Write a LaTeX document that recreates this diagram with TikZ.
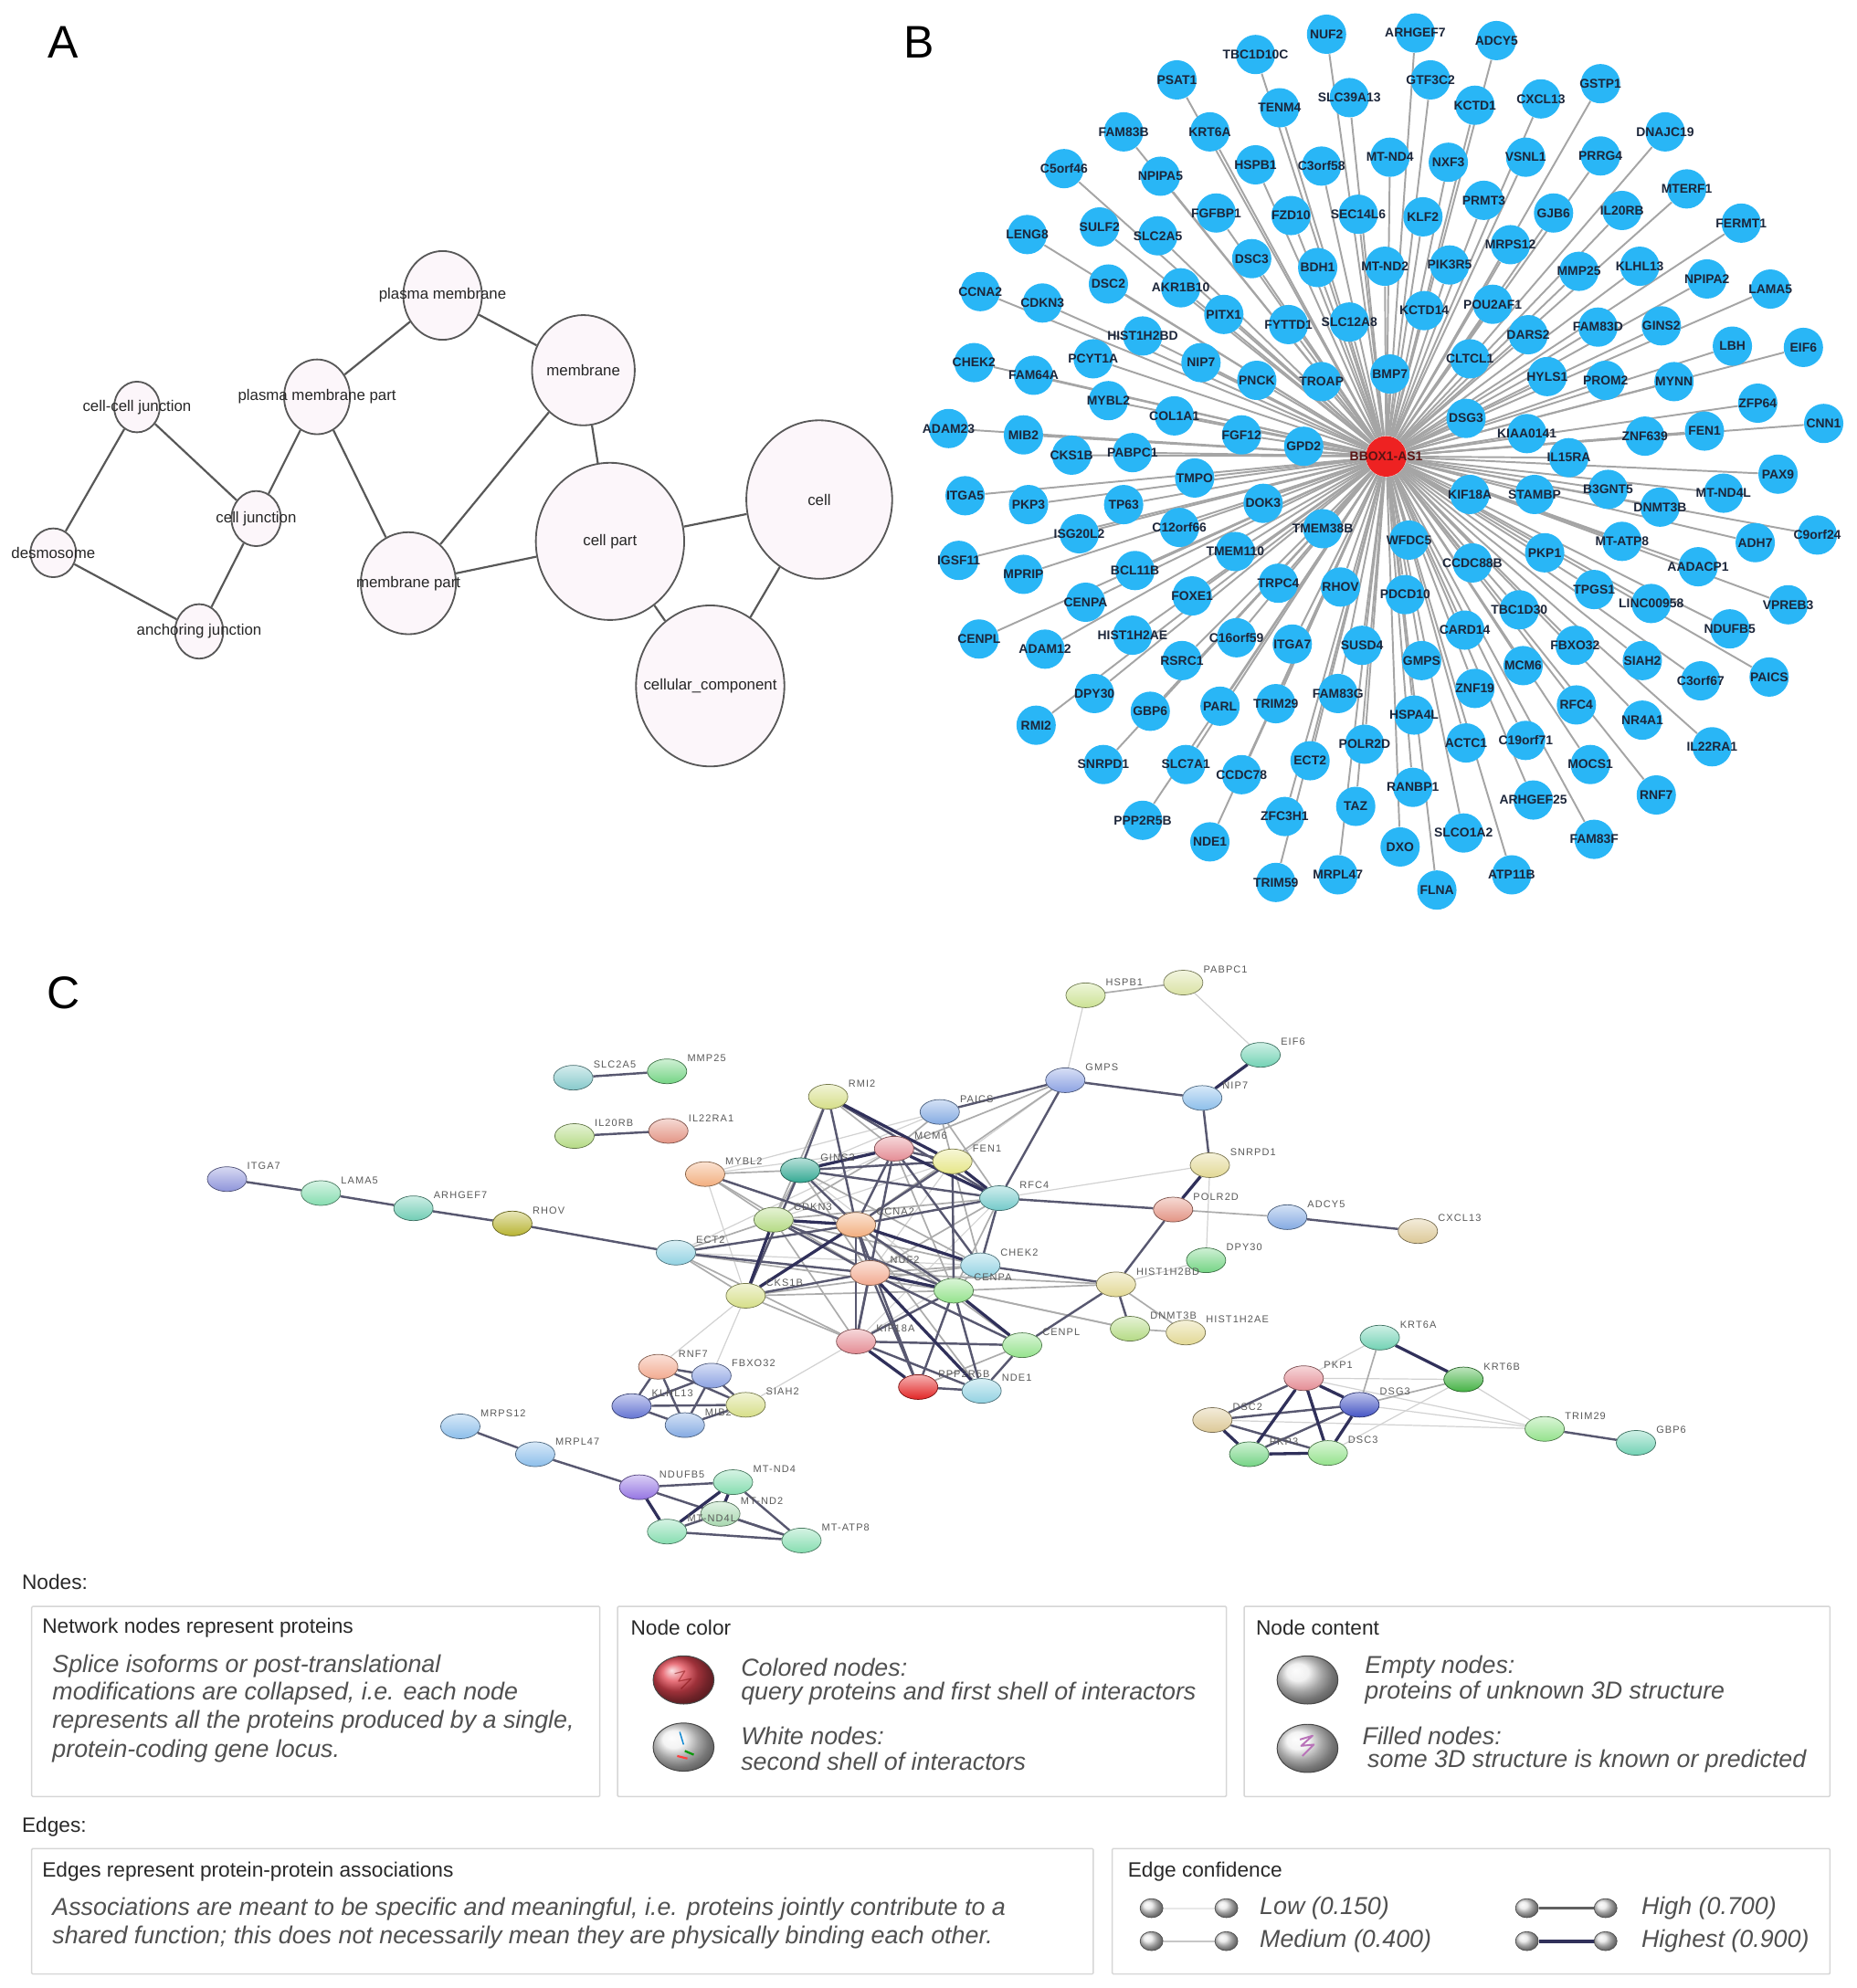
\documentclass[tikz,border=0pt]{standalone}
\usepackage{fontspec}
\setmainfont{Liberation Sans}
\newfontfamily\stringfam[LetterSpace=10]{Liberation Sans}
\usetikzlibrary{shapes.geometric, backgrounds}

\definecolor{netblue}{RGB}{41,182,246}
\definecolor{hubred}{RGB}{238,34,34}
\definecolor{hubtext}{RGB}{90,20,20}
\definecolor{labelnavy}{RGB}{28,38,58}
\definecolor{spoke}{RGB}{165,165,165}
\definecolor{gofill}{RGB}{252,246,250}
\definecolor{goline}{RGB}{88,88,88}
\definecolor{edgehigh}{RGB}{88,88,112}
\definecolor{edgetop}{RGB}{48,48,90}
\definecolor{boxline}{RGB}{214,214,214}
\definecolor{legtext}{RGB}{40,40,40}
\definecolor{legital}{RGB}{80,80,80}
\definecolor{queryred}{RGB}{226,70,82}
\definecolor{cviolet}{HTML}{8E94DA}
\definecolor{cmint}{HTML}{86DDB0}
\definecolor{cteal}{HTML}{70CDB4}
\definecolor{colive}{HTML}{B8B432}
\definecolor{cseafoam}{HTML}{86C9CB}
\definecolor{cgreen}{HTML}{74D484}
\definecolor{cyelgreen}{HTML}{B4DA84}
\definecolor{csalmon}{HTML}{E39484}
\definecolor{corange}{HTML}{F2AE7E}
\definecolor{cdkteal}{HTML}{32A892}
\definecolor{cchart}{HTML}{D6DE88}
\definecolor{cblue}{HTML}{84AAE2}
\definecolor{cpink}{HTML}{E48C94}
\definecolor{cyellow}{HTML}{E6E688}
\definecolor{cperi}{HTML}{8CA2E2}
\definecolor{clime}{HTML}{CCE294}
\definecolor{cpale}{HTML}{DAE2A4}
\definecolor{caqua}{HTML}{72D2B4}
\definecolor{csky}{HTML}{8CBEEA}
\definecolor{ckhaki}{HTML}{E2D894}
\definecolor{ctan}{HTML}{DCC896}
\definecolor{ccyan}{HTML}{74CACA}
\definecolor{clcyan}{HTML}{92D2E2}
\definecolor{cpeach}{HTML}{F2AA90}
\definecolor{clgreen}{HTML}{94E28C}
\definecolor{cred}{HTML}{E22424}
\definecolor{cindigo}{HTML}{6474D2}
\definecolor{cpurple}{HTML}{9474E2}
\definecolor{cgraygreen}{HTML}{A8D8B0}
\definecolor{cdkgreen}{HTML}{44B244}
\definecolor{cdkblue}{HTML}{4454C4}

\newcommand{\gofont}{\fontsize{6.9}{8}\selectfont}
\newcommand{\netfont}{\fontsize{5.7}{6}\selectfont\bfseries}
\newcommand{\strfont}{\stringfam\fontsize{4.5}{5}\selectfont}
\newcommand{\legfont}{\fontsize{9.3}{11}\selectfont}
\newcommand{\legitfont}{\fontsize{11}{12.5}\selectfont\itshape}

\begin{document}
\begin{tikzpicture}[x=0.02cm, y=-0.02cm,
    panel/.style={font=\fontsize{20.5}{24}\selectfont, inner sep=0pt},
    gonode/.style={ellipse, draw=goline, fill=gofill, line width=0.75pt, inner sep=0pt},
    golabel/.style={font=\gofont, text=black!85, inner sep=0pt},
    goedge/.style={draw=goline, line width=0.9pt},
    bnode/.style={circle, fill=netblue, minimum size=0.62cm, inner sep=0pt},
    blabel/.style={font=\netfont, text=labelnavy, inner sep=0pt},
    bedge/.style={draw=spoke, line width=0.8pt},
    cnode/.style={ellipse, minimum width=0.62cm, minimum height=0.39cm, inner sep=0pt,
        draw=#1!55!black, line width=0.3pt, top color=#1!35!white, bottom color=#1},
    clabel/.style={font=\strfont, text=gray!70!black, inner sep=0pt, xshift=0.09cm},
    elow/.style={draw=gray!35, line width=0.5pt},
    emid/.style={draw=gray!65, line width=0.7pt},
    ehigh/.style={draw=edgehigh, line width=1pt},
    ehighest/.style={draw=edgetop, line width=1.35pt},
    legbox/.style={draw=boxline, line width=0.6pt, rounded corners=0.5pt},
    legtitle/.style={font=\legfont, text=legtext, anchor=west, inner sep=0pt},
    legitem/.style={font=\legitfont, text=legital, anchor=west, inner sep=0pt},
    bigball/.style={ellipse, minimum width=0.96cm, minimum height=0.76cm, inner sep=0pt,
        draw=gray!55!black, line width=0.4pt, shade, ball color=#1},
    sball/.style={ellipse, minimum width=0.36cm, minimum height=0.3cm, inner sep=0pt,
        draw=gray!60!black, line width=0.3pt, shade, ball color=gray!20}]
    \useasboundingbox (0,0) rectangle (1464,1568);

    \node[panel] (tagA) at (50,33) {A};
    \node[panel] (tagB) at (725,33) {B};
    \node[panel] (tagC) at (50,783) {C};

    % A
    \node[gonode, minimum width=0.72cm, minimum height=0.77cm, label={[golabel]center:desmosome}] (desmosome) at (42,436) {};
    \node[gonode, minimum width=0.72cm, minimum height=0.80cm, label={[golabel]center:cell-cell junction}] (ccjunction) at (108,321) {};
    \node[gonode, minimum width=0.78cm, minimum height=0.87cm, label={[golabel]center:cell junction}] (celljunction) at (202,409) {};
    \node[gonode, minimum width=0.76cm, minimum height=0.86cm, label={[golabel]center:anchoring junction}] (anchjunction) at (157,498) {};
    \node[gonode, minimum width=1.04cm, minimum height=1.18cm, label={[golabel]center:plasma membrane part}] (pmpart) at (250,313) {};
    \node[gonode, minimum width=1.24cm, minimum height=1.40cm, label={[golabel]center:plasma membrane}] (plasmamem) at (349,233) {};
    \node[gonode, minimum width=1.62cm, minimum height=1.74cm, label={[golabel]center:membrane}] (membrane) at (460,292) {};
    \node[gonode, minimum width=1.50cm, minimum height=1.61cm, label={[golabel]center:membrane part}] (mempart) at (322,460) {};
    \node[gonode, minimum width=2.34cm, minimum height=2.48cm, label={[golabel]center:cell part}] (cellpart) at (481,427) {};
    \node[gonode, minimum width=2.30cm, minimum height=2.50cm, label={[golabel]center:cell}] (cell) at (646,394) {};
    \node[gonode, minimum width=2.34cm, minimum height=2.54cm, label={[golabel]center:cellular\_component}] (cellcomp) at (560,541) {};

    % B
    \def\spokes{NUF2/1046/27, TBC1D10C/990/43, PSAT1/928/63, TENM4/1009/85, SLC39A13/1064/77,
        FAM83B/886/104, KRT6A/954/104, C5orf46/839/133, NPIPA5/915/139, HSPB1/990/130,
        C3orf58/1042/131, FGFBP1/959/168, FZD10/1018/170, SEC14L6/1071/169, LENG8/810/185,
        SULF2/867/179, SLC2A5/913/186, DSC3/987/204, BDH1/1039/211, CCNA2/773/230,
        CDKN3/822/239, DSC2/874/224, AKR1B10/931/227, PITX1/965/248, FYTTD1/1016/256,
        SLC12A8/1064/254, HIST1H2BD/901/265, PCYT1A/862/283, NIP7/947/286, CHEK2/768/286,
        FAM64A/815/296, MYBL2/874/316, PNCK/991/300, TROAP/1042/301, COL1A1/926/328,
        ADAM23/748/338, MIB2/807/343, FGF12/979/343, GPD2/1028/352, CKS1B/845/359,
        PABPC1/893/357, ARHGEF7/1116/26, ADCY5/1180/32, GTF3C2/1128/63, KCTD1/1163/83,
        CXCL13/1215/78, GSTP1/1262/66, MT-ND4/1096/124, NXF3/1142/128, VSNL1/1203/124,
        PRRG4/1262/123, DNAJC19/1313/104, KLF2/1122/171, PRMT3/1170/158, GJB6/1225/168,
        IL20RB/1279/166, MTERF1/1330/149, FERMT1/1373/176, MT-ND2/1092/210, PIK3R5/1143/209,
        MRPS12/1191/193, MMP25/1245/214, KLHL13/1293/210, NPIPA2/1346/220, LAMA5/1396/228,
        KCTD14/1123/245, POU2AF1/1177/240, DARS2/1205/264, FAM83D/1260/258, GINS2/1310/257,
        LBH/1366/273, EIF6/1422/274, BMP7/1096/295, CLTCL1/1159/283, HYLS1/1220/297,
        PROM2/1266/300, MYNN/1320/301, ZFP64/1386/318, CNN1/1438/334, DSG3/1156/330,
        KIAA0141/1204/342, ZNF639/1297/344, FEN1/1344/340, IL15RA/1237/361,
        ITGA5/761/391, PKP3/811/398, TP63/886/398, TMPO/942/377, DOK3/996/397,
        ISG20L2/851/421, C12orf66/930/416, TMEM38B/1043/417, IGSF11/756/442, MPRIP/807/453,
        BCL11B/895/450, TMEM110/974/435, TRPC4/1008/460, RHOV/1057/463, CENPA/856/475,
        FOXE1/940/470, CENPL/772/504, ADAM12/824/512, HIST1H2AE/893/501, RSRC1/932/521,
        C16orf59/975/503, ITGA7/1019/508, SUSD4/1074/509, DPY30/863/547, GBP6/907/561,
        PARL/962/557, TRIM29/1006/555, FAM83G/1055/547, RMI2/817/572, SNRPD1/870/603,
        SLC7A1/935/603, CCDC78/979/611, ECT2/1033/600, POLR2D/1076/587, PPP2R5B/901/647,
        NDE1/954/664, ZFC3H1/1013/644, TAZ/1069/636, TRIM59/1006/696, MRPL47/1055/690,
        PAX9/1402/374, KIF18A/1159/390, STAMBP/1210/390, B3GNT5/1268/386, MT-ND4L/1359/389,
        DNMT3B/1309/400, C9orf24/1433/422, WFDC5/1111/426, MT-ATP8/1279/427, ADH7/1384/428,
        CCDC88B/1161/444, PKP1/1218/436, AADACP1/1339/447, PDCD10/1108/469, TPGS1/1257/465,
        LINC00958/1302/476, VPREB3/1410/477, TBC1D30/1198/481, CARD14/1155/497, NDUFB5/1364/496,
        FBXO32/1242/509, SIAH2/1295/521, C3orf67/1341/537, PAICS/1395/534, GMPS/1121/521,
        MCM6/1201/525, ZNF19/1163/543, RFC4/1243/556, NR4A1/1295/568, IL22RA1/1350/589,
        HSPA4L/1115/564, ACTC1/1156/586, C19orf71/1203/584, MOCS1/1254/603, RANBP1/1114/621,
        RNF7/1306/627, ARHGEF25/1209/631, SLCO1A2/1154/657, DXO/1104/668, FAM83F/1257/662,
        ATP11B/1192/690, FLNA/1133/702}
    \foreach \gene/\x/\y in \spokes
        \node[bnode, label={[blabel]center:\gene}] (b\gene) at (\x,\y) {};
    \node[bnode, fill=hubred, minimum size=0.64cm, label={[blabel, text=hubtext]center:BBOX1-AS1}] (bhub) at (1093,360) {};

    % C
    \def\proteins{ITGA7/179/930/cviolet, LAMA5/253/941/cmint, ARHGEF7/326/953/cteal,
        RHOV/404/965/colive, SLC2A5/452/850/cseafoam, MMP25/526/845/cgreen,
        IL20RB/453/896/cyelgreen, IL22RA1/527/892/csalmon, MYBL2/556/926/corange,
        GINS2/631/923/cdkteal, RMI2/653/865/cchart, PAICS/741/877/cblue, MCM6/705/906/cpink,
        FEN1/751/916/cyellow, GMPS/840/852/cperi, HSPB1/856/785/clime, PABPC1/933/775/cpale,
        EIF6/994/832/caqua, NIP7/948/866/csky, SNRPD1/954/919/ckhaki, POLR2D/925/954/csalmon,
        ADCY5/1015/960/cblue, CXCL13/1118/971/ctan, DPY30/951/994/cgreen, RFC4/788/945/ccyan,
        CDKN3/610/962/cyelgreen, CCNA2/675/966/corange, ECT2/533/988/clcyan,
        CHEK2/773/998/clcyan, NUF2/686/1004/cpeach, CENPA/752/1018/clgreen,
        CKS1B/588/1022/cchart, HIST1H2BD/880/1013/ckhaki, DNMT3B/891/1048/cyelgreen,
        HIST1H2AE/935/1051/ckhaki, KIF18A/675/1058/cpink, CENPL/806/1061/clgreen,
        PPP2R5B/724/1094/cred, NDE1/774/1097/clcyan, RNF7/519/1078/cpeach,
        FBXO32/561/1085/cperi, KLHL13/498/1109/cindigo, MIB2/540/1124/cblue,
        SIAH2/588/1108/cchart, MRPS12/363/1125/csky, MRPL47/422/1147/csky,
        NDUFB5/504/1173/cpurple, MT-ND4/578/1169/cmint, MT-ND2/568/1194/cgraygreen,
        MT-ND4L/526/1208/cmint, MT-ATP8/632/1215/cmint, KRT6A/1088/1055/caqua,
        PKP1/1028/1087/cpink, KRT6B/1154/1088/cdkgreen, DSG3/1072/1108/cdkblue,
        DSC2/956/1120/ctan, PKP3/985/1147/cgreen, DSC3/1047/1146/clgreen,
        TRIM29/1218/1127/clgreen, GBP6/1290/1138/caqua}
    \foreach \gene/\x/\y/\col in \proteins
        \node[cnode=\col, label={[clabel]north east:\gene}] (c\gene) at (\x,\y) {};

    % legend
    \node[legtitle] (nodesHead) at (17,1248) {Nodes:};
    \node[legtitle] (edgesHead) at (17,1441) {Edges:};
    \draw[legbox] (25,1267) rectangle (473,1417);
    \draw[legbox] (487,1267) rectangle (967,1417);
    \draw[legbox] (981,1267) rectangle (1443,1417);
    \draw[legbox] (25,1458) rectangle (862,1557);
    \draw[legbox] (877,1458) rectangle (1443,1557);

    \node[legtitle] (protTitle) at (33,1284) {Network nodes represent proteins};
    \node[legitem] (protA) at (41,1314) {Splice isoforms or post-translational};
    \node[legitem] (protB) at (41,1336) {modifications are collapsed, i.e. each node};
    \node[legitem] (protC) at (41,1358) {represents all the proteins produced by a single,};
    \node[legitem] (protD) at (41,1381) {protein-coding gene locus.};

    \node[legtitle] (colorTitle) at (497,1284) {Node color};
    \node[bigball=queryred] (redBall) at (539,1325) {};
    \draw[red!45!black, opacity=0.45, line width=0.5pt, line join=round] (532,1320) -- (540,1318) -- (535,1326) -- (545,1324) -- (537,1332);
    \node[bigball=gray!12] (whiteBall) at (539,1378) {};
    \draw[cyan!70!blue, line width=0.6pt] (536,1366) -- (539,1376);
    \draw[red!75, line width=0.9pt] (534,1385) -- (542,1387);
    \draw[green!60!black, line width=0.9pt] (540,1381) -- (547,1384);
    \node[legitem] (coloredA) at (584,1315) {Colored nodes:};
    \node[legitem] (coloredB) at (584,1336) {query proteins and first shell of interactors};
    \node[legitem] (whiteA) at (584,1369) {White nodes:};
    \node[legitem] (whiteB) at (584,1389) {second shell of interactors};

    \node[legtitle] (contentTitle) at (990,1284) {Node content};
    \node[bigball=gray!15] (emptyBall) at (1031,1325) {};
    \node[bigball=gray!12] (filledBall) at (1031,1379) {};
    \draw[violet!55, line width=0.8pt, line join=round] (1025,1372) -- (1035,1369) -- (1026,1377) -- (1036,1376) -- (1027,1385);
    \node[legitem] (emptyA) at (1076,1315) {Empty nodes:};
    \node[legitem] (emptyB) at (1076,1335) {proteins of unknown 3D structure};
    \node[legitem] (filledA) at (1074,1369) {Filled nodes:};
    \node[legitem] (filledB) at (1078,1389) {some 3D structure is known or predicted};

    \node[legtitle] (assocTitle) at (33,1476) {Edges represent protein-protein associations};
    \node[legitem] (assocA) at (41,1506) {Associations are meant to be specific and meaningful, i.e. proteins jointly contribute to a};
    \node[legitem] (assocB) at (41,1528) {shared function; this does not necessarily mean they are physically binding each other.};

    \node[legtitle] (confTitle) at (889,1476) {Edge confidence};
    \node[sball] (lowA) at (908,1505) {};
    \node[sball] (lowB) at (967,1505) {};
    \node[sball] (medA) at (908,1531) {};
    \node[sball] (medB) at (967,1531) {};
    \node[sball] (highA) at (1204,1505) {};
    \node[sball] (highB) at (1266,1505) {};
    \node[sball] (topA) at (1204,1531) {};
    \node[sball] (topB) at (1266,1531) {};
    \node[legitem] (lowText) at (993,1505) {Low (0.150)};
    \node[legitem] (medText) at (993,1531) {Medium (0.400)};
    \node[legitem] (highText) at (1294,1505) {High (0.700)};
    \node[legitem] (topText) at (1294,1531) {Highest (0.900)};

    \begin{pgfonlayer}{background}
        \foreach \src/\dst in {ccjunction/desmosome, ccjunction/celljunction, desmosome/anchjunction,
            anchjunction/celljunction, celljunction/pmpart, pmpart/plasmamem, pmpart/mempart,
            plasmamem/membrane, membrane/mempart, membrane/cellpart, mempart/cellpart,
            cellpart/cell, cellpart/cellcomp, cell/cellcomp}
            \path[goedge] (\src) edge (\dst);

        \foreach \gene/\x/\y in \spokes
            \path[bedge] (bhub) edge (b\gene);

        \foreach \src/\dst in {HSPB1/GMPS, PABPC1/EIF6, SNRPD1/DPY30, SNRPD1/RFC4, DPY30/HIST1H2BD,
            PAICS/MYBL2, PAICS/GINS2, GMPS/FEN1, MYBL2/MCM6, MYBL2/CKS1B, CKS1B/RNF7, CKS1B/FBXO32,
            KIF18A/SIAH2, ECT2/CHEK2, RFC4/KIF18A, FEN1/CDKN3, FEN1/NUF2, CHEK2/KIF18A,
            KRT6A/PKP1, PKP1/KRT6B, PKP1/TRIM29, DSG3/TRIM29, KRT6B/TRIM29, KRT6B/DSC3,
            DSC2/TRIM29, GINS2/CENPA, MCM6/ECT2}
            \path[elow] (c\src) edge (c\dst);
        \foreach \src/\dst in {HSPB1/PABPC1, POLR2D/ADCY5, HIST1H2BD/HIST1H2AE, DNMT3B/HIST1H2AE,
            HIST1H2BD/CENPA, HIST1H2BD/NUF2, CENPA/DNMT3B, NUF2/DNMT3B, GMPS/MCM6, GMPS/CCNA2,
            PAICS/MCM6, PAICS/FEN1, PAICS/RFC4, RMI2/MCM6, RMI2/CDKN3, MYBL2/GINS2, MYBL2/CDKN3,
            MYBL2/NUF2, MYBL2/CHEK2, GINS2/CDKN3, GINS2/NUF2, GINS2/CHEK2, MCM6/CDKN3, MCM6/NUF2,
            MCM6/CENPA, FEN1/CHEK2, RFC4/CENPA, RFC4/CDKN3, RFC4/NUF2, CDKN3/ECT2, CDKN3/KIF18A,
            CDKN3/CHEK2, CCNA2/CENPL, CCNA2/NDE1, ECT2/CKS1B, ECT2/CENPA, ECT2/KIF18A, NUF2/CHEK2,
            CHEK2/CENPA, CHEK2/CKS1B, CENPA/CKS1B, CKS1B/KIF18A, CENPL/PPP2R5B, KRT6A/DSG3, DSG3/KRT6B}
            \path[emid] (c\src) edge (c\dst);
        \foreach \src/\dst in {ITGA7/LAMA5, LAMA5/ARHGEF7, ARHGEF7/RHOV, RHOV/ECT2, SLC2A5/MMP25,
            IL20RB/IL22RA1, NIP7/GMPS, NIP7/SNRPD1, ADCY5/CXCL13, POLR2D/RFC4, POLR2D/HIST1H2BD,
            HIST1H2BD/DNMT3B, HIST1H2BD/CENPL, HIST1H2BD/CHEK2, GMPS/PAICS, GMPS/RFC4, RMI2/GINS2,
            RMI2/CCNA2, RMI2/RFC4, MYBL2/CCNA2, GINS2/FEN1, GINS2/RFC4, GINS2/CCNA2, GINS2/CKS1B,
            MCM6/FEN1, MCM6/CCNA2, MCM6/KIF18A, MCM6/CHEK2, FEN1/CCNA2, FEN1/CENPA, RFC4/CCNA2,
            RFC4/CHEK2, CDKN3/NUF2, CDKN3/CENPA, CCNA2/ECT2, CCNA2/NUF2, CCNA2/CENPA, CCNA2/KIF18A,
            CCNA2/PPP2R5B, ECT2/NUF2, NUF2/CKS1B, NUF2/KIF18A, NUF2/CENPL, NUF2/PPP2R5B,
            CENPA/KIF18A, CENPA/NDE1, CENPA/PPP2R5B, KIF18A/CENPL, KIF18A/NDE1, CENPL/NDE1,
            PPP2R5B/NDE1, RNF7/FBXO32, RNF7/KLHL13, RNF7/MIB2, RNF7/SIAH2, FBXO32/KLHL13,
            FBXO32/MIB2, FBXO32/SIAH2, KLHL13/MIB2, KLHL13/SIAH2, MIB2/SIAH2, MRPS12/MRPL47,
            MRPL47/NDUFB5, NDUFB5/MT-ND4, NDUFB5/MT-ATP8, MT-ND2/MT-ND4L, MT-ND2/MT-ATP8,
            MT-ND4L/MT-ATP8, MT-ND4/MT-ATP8, PKP1/DSC2, DSG3/DSC2, DSG3/PKP3, DSC2/DSC3, TRIM29/GBP6}
            \path[ehigh] (c\src) edge (c\dst);
        \foreach \src/\dst in {EIF6/NIP7, SNRPD1/POLR2D, RMI2/FEN1, GINS2/MCM6, MCM6/RFC4, FEN1/RFC4,
            CDKN3/CCNA2, CDKN3/CKS1B, CCNA2/CKS1B, CCNA2/CHEK2, NUF2/CENPA, NUF2/NDE1, CENPA/CENPL,
            KIF18A/PPP2R5B, NDUFB5/MT-ND4L, MT-ND4/MT-ND4L, MT-ND4/MT-ND2, KRT6A/KRT6B, PKP1/DSG3,
            PKP1/PKP3, PKP1/DSC3, DSG3/DSC3, DSC2/PKP3, PKP3/DSC3}
            \path[ehighest] (c\src) edge (c\dst);

        \path[draw=gray!18, line width=0.8pt] (lowA) edge (lowB);
        \path[draw=gray!45, line width=0.9pt] (medA) edge (medB);
        \path[draw=gray!75!black, line width=1.3pt] (highA) edge (highB);
        \path[draw=edgetop, line width=1.6pt] (topA) edge (topB);
    \end{pgfonlayer}
\end{tikzpicture}
\end{document}
